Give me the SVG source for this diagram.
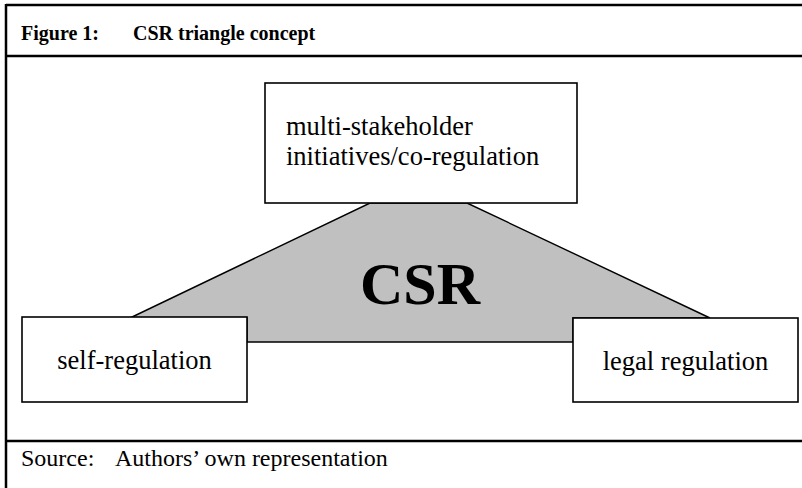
<svg xmlns="http://www.w3.org/2000/svg" width="802" height="488" viewBox="0 0 802 488">
<style>
.frame{stroke:#000;stroke-width:2.5;fill:none}
.box{fill:#fff;stroke:#000;stroke-width:1.6}
.t{font-family:"Liberation Serif","Times New Roman",serif;fill:#000}
.body{font-size:26.5px}
.hdr{font-size:20px;font-weight:bold}
.src{font-size:24px}
</style>
<rect width="802" height="488" fill="#fff"/>
<g id="frame">
<line class="frame" x1="6" y1="5" x2="802" y2="5"/>
<line class="frame" x1="6" y1="4" x2="6" y2="488"/>
<line class="frame" x1="6" y1="56" x2="802" y2="56"/>
<line class="frame" x1="6" y1="441" x2="802" y2="441"/>
<text class="t hdr" x="21" y="40">Figure 1:</text>
<text class="t hdr" x="133" y="40">CSR triangle concept</text>
<text class="t src" x="21" y="466">Source:</text>
<text class="t src" x="115" y="466">Authors’ own representation</text>
</g>
<g id="connectors">
<polygon points="370,203 467,203 710,318 573,318 573,342 247,342 247,318 130,318" fill="#c0c0c0" stroke="#000" stroke-width="1.4"/>
<text class="t" x="420" y="304" text-anchor="middle" font-size="60" font-weight="bold">CSR</text>
</g>
<g id="node-top">
<rect class="box" x="265" y="83" width="312" height="120"/>
<text class="t body" x="286" y="135">multi-stakeholder</text>
<text class="t body" x="286" y="165">initiatives/co-regulation</text>
</g>
<g id="node-self">
<rect class="box" x="22" y="317" width="225" height="85"/>
<text class="t body" x="134.5" y="369" text-anchor="middle">self-regulation</text>
</g>
<g id="node-legal">
<rect class="box" x="573" y="318" width="225" height="84"/>
<text class="t body" x="685.5" y="370" text-anchor="middle">legal regulation</text>
</g>
</svg>
